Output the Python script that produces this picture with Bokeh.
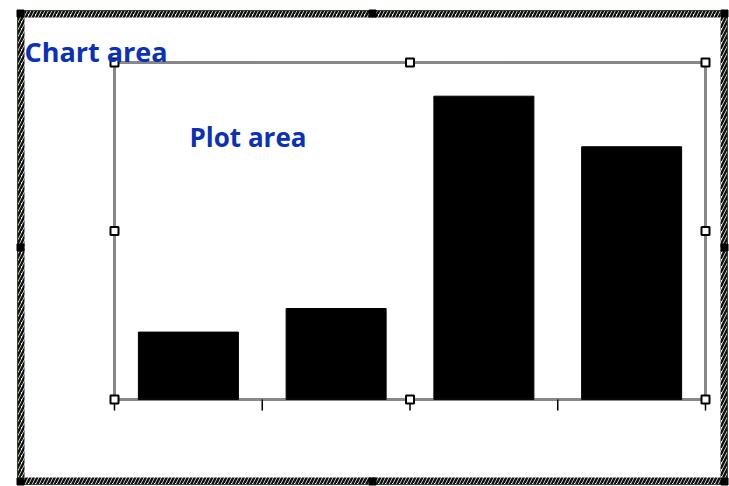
from bokeh.plotting import figure
from bokeh.models import Range1d, Label
from bokeh.embed import file_html
from bokeh.resources import INLINE

# ---- data ----
categories = ["A", "B", "C", "D"]
values = [2.0, 2.7, 9.0, 7.5]
y_max = 10

# ---- layout (pixels) ----
W, H = 729, 486
PL, PR, PT, PB = 114, 705, 62, 399      # plot area box
CL, CR, CT, CB = 17, 727, 10, 484       # chart area box
n = len(categories)
cat_px = (PR - PL) / n
unit_px = (PB - PT) / y_max


def dx(px):
    return (px - PL) / cat_px


def dy(py):
    return (PB - py) / unit_px


p = figure(width=W, height=H, output_backend="svg", toolbar_location=None,
           x_range=Range1d(dx(0), dx(W)), y_range=Range1d(dy(H), dy(0)),
           min_border=0, outline_line_color=None,
           x_axis_location=None, y_axis_location=None,
           background_fill_color="white", border_fill_color="white")
p.grid.visible = False

# chart area hatched border (four strips)
t = 7
strips_l = [dx(CL), dx(CL), dx(CR - t), dx(CL)]
strips_r = [dx(CR), dx(CL + t), dx(CR), dx(CR)]
strips_t = [dy(CT), dy(CT), dy(CT), dy(CB - t)]
strips_b = [dy(CT + t), dy(CB), dy(CB), dy(CB)]
p.quad(left=strips_l, right=strips_r, top=strips_t, bottom=strips_b,
       fill_color="white", line_color=None, hatch_pattern="/",
       hatch_color="#111111", hatch_scale=7, hatch_weight=2.5)
p.quad(left=[dx(CL)], right=[dx(CR)], top=[dy(CT)], bottom=[dy(CB)],
       fill_color=None, line_color="#33472b", line_width=1)

# chart handles
cx = [CL + 3, (CL + CR) / 2, CR - 3]
cy = [CT + 3, (CT + CB) / 2, CB - 3]
hx, hy = [], []
for i, xx in enumerate(cx):
    for j, yy in enumerate(cy):
        if i == 1 and j == 1:
            continue
        hx.append(dx(xx))
        hy.append(dy(yy))
p.scatter(x=hx, y=hy, marker="square", size=7, color="black")

# bars
xs = [i + 0.5 for i in range(n)]
p.vbar(x=xs, top=values, bottom=0, width=100 / cat_px, color="black")

# plot area dotted border
p.quad(left=[0], right=[n], top=[y_max], bottom=[0], fill_color=None,
       line_color="#111111", line_width=3, line_dash="1 1")

# category boundary ticks
p.segment(x0=list(range(n + 1)), y0=[0] * (n + 1), x1=list(range(n + 1)),
          y1=[dy(PB + 11)] * (n + 1), line_color="black", line_width=1.5)

# plot handles
px_ = [0, n / 2, n]
py_ = [0, y_max / 2, y_max]
gx, gy = [], []
for i, xx in enumerate(px_):
    for j, yy in enumerate(py_):
        if i == 1 and j == 1:
            continue
        gx.append(xx)
        gy.append(yy)
p.scatter(x=gx, y=gy, marker="square", size=8, fill_color="white",
          line_color="black", line_width=2)

blue = "#0a31b6"
p.add_layout(Label(x=dx(24), y=dy(51), text="Chart area", text_baseline="alphabetic",
                   text_font="Open Sans", text_font_style="bold", text_font_size="27px",
                   text_color=blue))
p.add_layout(Label(x=dx(189), y=dy(136), text="Plot area", text_baseline="alphabetic",
                   text_font="Open Sans", text_font_style="bold", text_font_size="26px",
                   text_color=blue))

open("out.html", "w").write(file_html(p, INLINE))
